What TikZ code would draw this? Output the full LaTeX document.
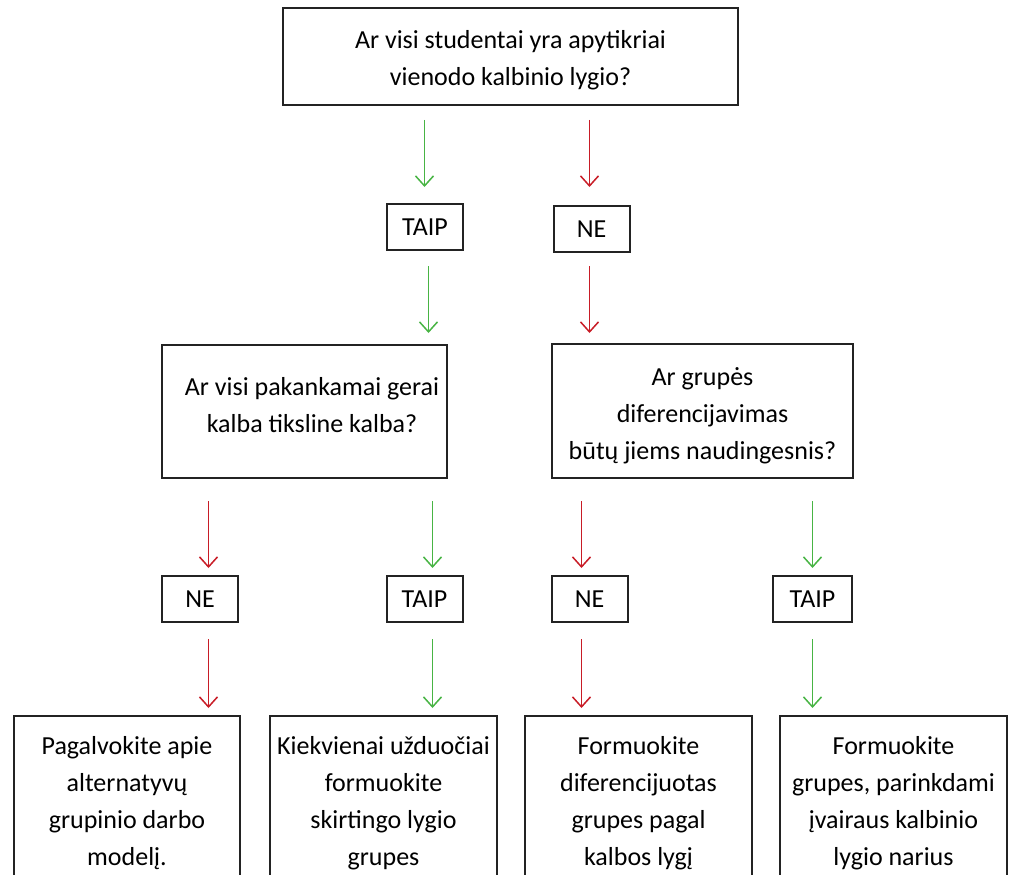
\documentclass[tikz,border=0pt]{standalone}
\usepackage{fontspec}
\setmainfont{Carlito}
\usetikzlibrary{arrows.meta}
\definecolor{taipgreen}{RGB}{72,180,68}
\definecolor{nered}{RGB}{200,28,38}
\definecolor{boxline}{RGB}{35,35,35}
\begin{document}
\begin{tikzpicture}[x=1pt,y=-1pt,
    klausimas/.style={draw=boxline,line width=2pt,align=center,inner sep=0pt,
      font=\fontsize{26}{37}\selectfont},
    atsakymas/.style={klausimas,minimum width=76pt,minimum height=46pt},
    patarimas/.style={klausimas,anchor=north,minimum width=226pt,inner ysep=20pt},
    taipas/.style={draw=taipgreen,line width=1.5pt,-{Straight Barb[length=10pt,width=18pt]}},
    neas/.style={taipas,draw=nered}]
        \useasboundingbox (0,0) rectangle (1013,875);
        \clip (0,0) rectangle (1013,875);
        \node[klausimas,minimum width=455pt,minimum height=97pt,text height=63pt,text depth=6pt]
          (q0) at (510.5,56.5) {Ar visi studentai yra apytikriai\\vienodo kalbinio lygio?};
        \node[atsakymas] (taip1) at (425,227) {TAIP};
        \node[atsakymas] (ne1) at (591.5,229) {NE};
        \coordinate (a1) at (424.5,0);
        \coordinate (a2) at (589.5,0);
        \coordinate (b1) at (428.5,0);
        \coordinate (b2) at (589.5,0);
        \draw[taipas,shorten <=14pt,shorten >=16pt] (q0.south -| a1) -- (taip1.north -| a1);
        \draw[neas,shorten <=14pt,shorten >=18pt] (q0.south -| a2) -- (ne1.north -| a2);
        \node[klausimas,minimum width=285pt,minimum height=133pt,text height=47pt,text depth=6pt]
          (q1) at (304.5,411.5) {\hspace*{15pt}Ar visi pakankamai gerai\\\hspace*{15pt}kalba tiksline kalba?};
        \node[klausimas,minimum width=301pt,minimum height=134pt,text height=102pt,text depth=6pt]
          (q2) at (702.5,411) {Ar grupės\\diferencijavimas\\būtų jiems naudingesnis?};
        \draw[taipas,shorten <=15pt,shorten >=11pt] (taip1.south -| b1) -- (q1.north -| b1);
        \draw[neas,shorten <=13pt,shorten >=10pt] (ne1.south -| b2) -- (q2.north -| b2);
        \node[atsakymas] (ne2) at (200,599) {NE};
        \node[atsakymas] (taip2) at (424.5,599) {TAIP};
        \node[atsakymas] (ne3) at (589.5,599) {NE};
        \node[atsakymas,minimum width=79pt] (taip3) at (812.5,599) {TAIP};
        \coordinate (x1) at (208.5,0);
        \coordinate (x2) at (432.5,0);
        \coordinate (x3) at (581.5,0);
        \coordinate (x4) at (812.5,0);
        \draw[neas,shorten <=22pt,shorten >=7pt] (q1.south -| x1) -- (ne2.north -| x1);
        \draw[taipas,shorten <=22pt,shorten >=7pt] (q1.south -| x2) -- (taip2.north -| x2);
        \draw[neas,shorten <=22pt,shorten >=7pt] (q2.south -| x3) -- (ne3.north -| x3);
        \draw[taipas,shorten <=22pt,shorten >=7pt] (q2.south -| x4) -- (taip3.north -| x4);
        \node[patarimas] (p1) at (127,715)
          {Pagalvokite apie\\alternatyvų\\grupinio darbo\\modelį.};
        \node[patarimas,minimum width=227pt] (p2) at (383.5,715)
          {Kiekvienai užduočiai\\formuokite\\skirtingo lygio\\grupes};
        \node[patarimas,minimum width=227pt] (p3) at (638.5,715)
          {Formuokite\\diferencijuotas\\grupes pagal\\kalbos lygį};
        \node[patarimas,minimum width=227pt] (p4) at (893.5,715)
          {Formuokite\\grupes, parinkdami\\įvairaus kalbinio\\lygio narius};
        \draw[neas,shorten <=16pt,shorten >=7pt] (ne2.south -| x1) -- (p1.north -| x1);
        \draw[taipas,shorten <=16pt,shorten >=7pt] (taip2.south -| x2) -- (p2.north -| x2);
        \draw[neas,shorten <=16pt,shorten >=7pt] (ne3.south -| x3) -- (p3.north -| x3);
        \draw[taipas,shorten <=16pt,shorten >=7pt] (taip3.south -| x4) -- (p4.north -| x4);
      \end{tikzpicture}
\end{document}
